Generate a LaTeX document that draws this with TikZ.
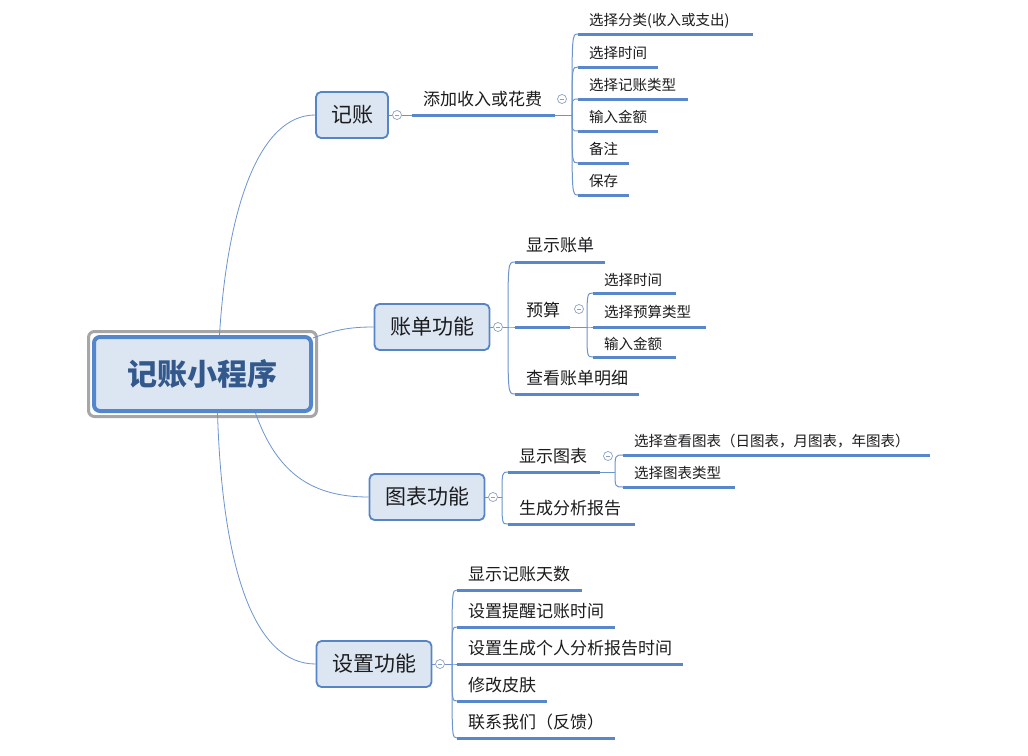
\documentclass[tikz,border=0pt]{standalone}
\usepackage{fontspec}
\setmainfont{Noto Sans CJK SC}
\usetikzlibrary{calc}
\definecolor{uline}{RGB}{88,136,203}
\definecolor{connc}{RGB}{108,148,206}
\definecolor{boxfill}{RGB}{220,230,242}
\definecolor{boxline}{RGB}{86,132,197}
\definecolor{rootline}{RGB}{84,134,204}
\definecolor{framegray}{RGB}{166,166,166}
\definecolor{roottext}{RGB}{50,88,140}
\definecolor{txt}{RGB}{28,28,30}
\definecolor{circc}{RGB}{140,160,192}
\newcommand\mytopic[7]{%
  \coordinate (#1-s) at (#2,#4);
  \coordinate (#1-e) at (#3,#4);
  \draw[ulinestyle] (#1-s) -- (#1-e);
  \node[#6, anchor=west] (#1) at ({#2+11},#5) {#7};}
\newcommand\collapse[2]{%
  \node[collapsebox] (#1) at (#2) {};
  \draw[circc, line width=0.7pt] ([xshift=-2pt]#1.center) -- ([xshift=2pt]#1.center);}
\begin{document}
\begin{tikzpicture}[x=1pt,y=-1pt,
  ulinestyle/.style={uline, line width=3pt},
  conn/.style={connc, line width=1pt},
  mainconn/.style={connc, line width=0.8pt},
  mainbox/.style={draw=boxline, line width=1.8pt, fill=boxfill, rounded corners=5pt,
    minimum width=#1, minimum height=46pt, inner sep=0pt, text=txt,
    font=\fontsize{21}{24}\selectfont},
  lvltwo/.style={inner sep=0pt, text=txt, font=\fontsize{17}{20}\selectfont},
  lvlthree/.style={inner sep=0pt, text=txt, font=\fontsize{14.5}{17}\selectfont},
  collapsebox/.style={circle, draw=circc, fill=white, line width=0.7pt, minimum size=9pt, inner sep=0pt}]
\useasboundingbox (0,0) rectangle (1028,755);
\fill[white] (0,0) rectangle (1028,755);

% root
\node[draw=framegray, line width=3pt, fill=white, rounded corners=6pt,
  minimum width=228pt, minimum height=85pt] (rootframe) at (202.5,374) {};
\node[draw=rootline, line width=4pt, fill=boxfill, rounded corners=6pt,
  minimum width=217pt, minimum height=74pt, text=roottext,
  font=\fontsize{30}{34}\selectfont\bfseries] (root) at (202.5,374) {记账小程序};

% main nodes
\node[mainbox=72pt] (jz) at (352,115) {记账};
\node[mainbox=115pt] (zd) at (432,327) {账单功能};
\node[mainbox=115pt] (tb) at (427,497) {图表功能};
\node[mainbox=115pt] (sz) at (374,664) {设置功能};

% main connectors
\draw[mainconn] ([xshift=17pt]root.north) .. controls +(8,-130) and +(-55,0) .. (jz.west);
\draw[mainconn] ([yshift=36pt]root.east) .. controls +(22,-8) and +(-25,0) .. (zd.west);
\draw[mainconn] ([xshift=53pt]root.south) .. controls +(22,62) and +(-55,0) .. (tb.west);
\draw[mainconn] ([xshift=15pt]root.south) .. controls +(5,160) and +(-60,0) .. (sz.west);

% collapse circles of main nodes
\collapse{cjz}{397,115}
\collapse{czd}{498,327}
\collapse{ctb}{493,497}
\collapse{csz}{440,664}
\draw[conn] (jz.east) -- (cjz.west);
\draw[conn] (zd.east) -- (czd.west);
\draw[conn] (tb.east) -- (ctb.west);
\draw[conn] (sz.east) -- (csz.west);

% ===== 记账 =====
\mytopic{add}{412}{555}{115}{99}{lvltwo}{添加收入或花费}
\draw[conn] (cjz.east) -- (add-s);
\collapse{cadd}{562,99}
\mytopic{c1}{578}{753}{34}{21}{lvlthree}{选择分类(收入或支出)}
\mytopic{c2}{578}{658}{67}{53}{lvlthree}{选择时间}
\mytopic{c3}{578}{688}{99}{85}{lvlthree}{选择记账类型}
\mytopic{c4}{578}{658}{131}{117}{lvlthree}{输入金额}
\mytopic{c5}{578}{629}{163}{149}{lvlthree}{备注}
\mytopic{c6}{578}{629}{195}{181}{lvlthree}{保存}
\coordinate (add-t) at (572,115);
\draw[conn] (add-e) -- (add-t);
\foreach \c in {c1,c2,c3,c4,c5,c6}
  \draw[conn] (add-t) .. controls (add-t |- \c-s) .. (\c-s);

% ===== 账单功能 =====
\mytopic{b1}{515}{605}{262}{245}{lvltwo}{显示账单}
\mytopic{b2}{515}{570}{327}{310}{lvltwo}{预算}
\mytopic{b3}{515}{639}{394}{378}{lvltwo}{查看账单明细}
\coordinate (zd-t) at (508,327);
\draw[conn] (czd.east) -- (zd-t);
\foreach \c in {b1,b2,b3}
  \draw[conn] (zd-t) .. controls (zd-t |- \c-s) .. (\c-s);
\collapse{cys}{579,309}
\mytopic{b21}{593}{676}{293}{280}{lvlthree}{选择时间}
\mytopic{b22}{593}{706}{327}{312}{lvlthree}{选择预算类型}
\mytopic{b23}{593}{676}{357}{344}{lvlthree}{输入金额}
\coordinate (ys-t) at (587,327);
\draw[conn] (b2-e) -- (ys-t);
\foreach \c in {b21,b22,b23}
  \draw[conn] (ys-t) .. controls (ys-t |- \c-s) .. (\c-s);

% ===== 图表功能 =====
\mytopic{t1}{508}{600}{472}{456}{lvltwo}{显示图表}
\mytopic{t2}{508}{635}{524}{508}{lvltwo}{生成分析报告}
\coordinate (tb-t) at (502,497);
\draw[conn] (ctb.east) -- (tb-t);
\foreach \c in {t1,t2}
  \draw[conn] (tb-t) .. controls (tb-t |- \c-s) .. (\c-s);
\collapse{cxs}{608,456}
\mytopic{t11}{623}{930}{455}{441}{lvlthree}{选择查看图表（日图表，月图表，年图表）}
\mytopic{t12}{623}{735}{487}{473}{lvlthree}{选择图表类型}
\coordinate (xs-t) at (615,472);
\draw[conn] (t1-e) -- (xs-t);
\foreach \c in {t11,t12}
  \draw[conn] (xs-t) .. controls (xs-t |- \c-s) .. (\c-s);

% ===== 设置功能 =====
\mytopic{s1}{457}{582}{590}{574}{lvltwo}{显示记账天数}
\mytopic{s2}{457}{615}{627}{611}{lvltwo}{设置提醒记账时间}
\mytopic{s3}{457}{683}{664}{648}{lvltwo}{设置生成个人分析报告时间}
\mytopic{s4}{457}{547}{701}{685}{lvltwo}{修改皮肤}
\mytopic{s5}{457}{615}{738}{722}{lvltwo}{联系我们（反馈）}
\coordinate (sz-t) at (452,664);
\draw[conn] (csz.east) -- (sz-t);
\foreach \c in {s1,s2,s3,s4,s5}
  \draw[conn] (sz-t) .. controls (sz-t |- \c-s) .. (\c-s);
\end{tikzpicture}
\end{document}
